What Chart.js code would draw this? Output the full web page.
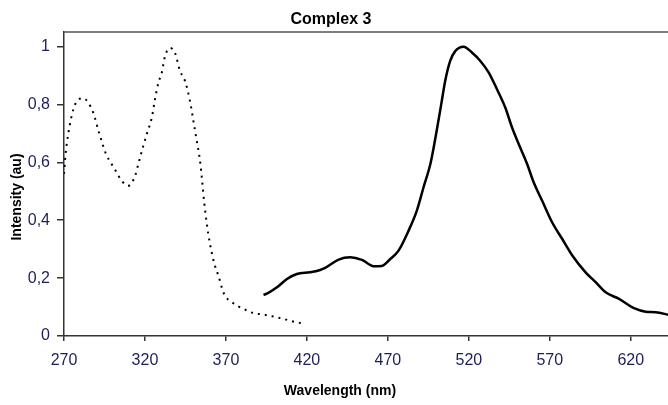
<!DOCTYPE html>
<html>
<head>
<meta charset="utf-8">
<script src="https://cdn.jsdelivr.net/npm/chart.js@4/dist/chart.umd.min.js"></script>
<style>
html,body{margin:0;padding:0;background:#fff;}
#wrap{width:668px;height:405px;position:relative;}
</style>
</head>
<body>
<div id="wrap"><canvas id="c" width="668" height="405"></canvas></div>
<script>
// Excitation spectrum (dotted)
const excWavelength = [270,271,272.7,274.3,277.4,281.9,285,288,291.6,296,299.4,302.5,305.6,309.7,313.9,315.9,319,321.1,324.2,326.2,328.3,330.4,332.3,335.4,338.5,341.6,344.7,347.8,349.9,352,354,355.4,356.6,358.1,359.1,361.2,363.2,365.3,368.8,374.6,380.8,387,393.2,399.4,405.6,412.8,419];
const excIntensity  = [0.56,0.63,0.70,0.75,0.806,0.821,0.806,0.772,0.703,0.628,0.594,0.565,0.536,0.519,0.553,0.594,0.657,0.697,0.754,0.818,0.875,0.91,0.965,0.995,0.979,0.916,0.881,0.812,0.743,0.674,0.605,0.53,0.46,0.392,0.352,0.289,0.243,0.209,0.146,0.113,0.094,0.079,0.074,0.067,0.059,0.048,0.042];
// Emission spectrum (solid)
const emWavelength = [393.2,395.3,401.5,407.7,413.8,422,428.2,431.3,439.6,446.7,454,461.2,466.3,471.5,476.6,482.8,487.9,492,496.5,500.5,503.3,505.4,508.5,511.6,516.8,521.9,527.1,532.3,537.4,542.5,546.7,550.8,556,560.1,565.3,571.5,577.7,583.9,592.1,598.3,604.5,612.8,622,629.2,635.4,643.6];
const emIntensity  = [0.142,0.146,0.168,0.197,0.214,0.22,0.228,0.235,0.264,0.272,0.263,0.241,0.242,0.266,0.295,0.364,0.433,0.513,0.60,0.72,0.812,0.881,0.95,0.984,0.999,0.979,0.95,0.91,0.852,0.789,0.72,0.663,0.594,0.53,0.467,0.392,0.335,0.278,0.22,0.186,0.151,0.128,0.096,0.084,0.082,0.073];
const xTickValues = [270,320,370,420,470,520,570,620];
const yTickValues = [0,0.2,0.4,0.6,0.8,1];
const chartTitle = "Complex 3";
const xTitle = "Wavelength (nm)";
const yTitle = "Intensity (au)";

const FONT = "'Liberation Sans', Arial, sans-serif";
const tickColor = "#1e1e5a";

const textPlugin = {
  id: 'texts',
  afterDraw(chart) {
    const ctx = chart.ctx, a = chart.chartArea;
    ctx.save();
    ctx.strokeStyle = '#555';
    ctx.lineWidth = 1.5;
    ctx.beginPath();
    ctx.moveTo(a.left, a.top);
    ctx.lineTo(a.right, a.top);
    ctx.stroke();
    ctx.fillStyle = '#000';
    ctx.textAlign = 'center';
    ctx.textBaseline = 'middle';
    ctx.font = "bold 16px " + FONT;
    ctx.fillText(chartTitle, 331, 20);
    ctx.font = "bold 14px " + FONT;
    ctx.fillText(xTitle, 340, 391);
    ctx.translate(17, 197);
    ctx.rotate(-Math.PI / 2);
    ctx.fillText(yTitle, 0, 0);
    ctx.restore();
  }
};

new Chart(document.getElementById('c'), {
  type: 'line',
  data: {
    datasets: [
      {
        data: excWavelength.map((x, i) => ({x, y: excIntensity[i]})),
        borderColor: '#000',
        borderWidth: 2,
        borderDash: [2, 5],
        pointRadius: 0,
        cubicInterpolationMode: 'monotone',
        fill: false
      },
      {
        data: emWavelength.map((x, i) => ({x, y: emIntensity[i]})),
        borderColor: '#000',
        borderWidth: 2.5,
        pointRadius: 0,
        cubicInterpolationMode: 'monotone',
        fill: false
      }
    ]
  },
  options: {
    responsive: false,
    animation: false,
    devicePixelRatio: 1,
    layout: {padding: {top: 32, right: 0, left: 0, bottom: 0}},
    plugins: {legend: {display: false}, tooltip: {enabled: false}, title: {display: false}},
    scales: {
      x: {
        type: 'linear',
        min: 270,
        max: 643,
        afterBuildTicks: s => { s.ticks = xTickValues.map(v => ({value: v})); },
        afterFit: s => { s.height = 69; },
        grid: {display: true, drawOnChartArea: false, tickLength: 5, color: '#333', lineWidth: 1.5},
        border: {display: true, color: '#333', width: 1.5},
        ticks: {color: tickColor, font: {family: FONT, size: 16}, padding: 10, maxRotation: 0, autoSkip: false}
      },
      y: {
        type: 'linear',
        min: 0,
        max: 1.05,
        afterBuildTicks: s => { s.ticks = yTickValues.map(v => ({value: v})); },
        afterFit: s => { s.width = 64; },
        grid: {display: true, drawOnChartArea: false, tickLength: 7, color: '#333', lineWidth: 1.5},
        border: {display: true, color: '#333', width: 1.5},
        ticks: {
          color: tickColor,
          font: {family: FONT, size: 16},
          padding: 7,
          callback: v => String(Math.round(v * 10) / 10).replace('.', ',')
        }
      }
    }
  },
  plugins: [textPlugin]
});
</script>
</body>
</html>
